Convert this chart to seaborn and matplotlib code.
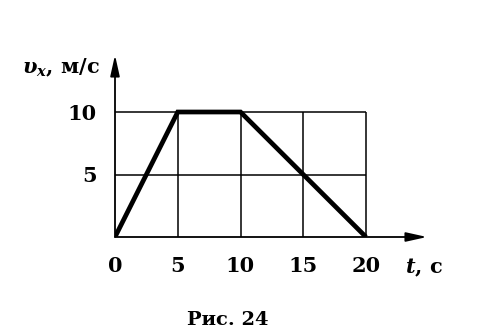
import matplotlib
matplotlib.use("Agg")
import matplotlib.pyplot as plt
import seaborn as sns
import pandas as pd

# Velocity profile: time (s) and projected velocity (m/s)
t_s = [0, 5, 10, 20]
vx_ms = [0, 10, 10, 0]

x_ticks = [0, 5, 10, 15, 20]
y_ticks = [5, 10]
x_tick_labels = ["0", "5", "10", "15", "20"]
y_tick_labels = ["5", "10"]

sns.set_style("white")
plt.rcParams["font.family"] = ["DejaVu Serif"]
plt.rcParams["font.weight"] = "bold"
plt.rcParams["mathtext.fontset"] = "dejavuserif"
plt.rcParams["text.color"] = "black"
plt.rcParams["xtick.color"] = "black"
plt.rcParams["ytick.color"] = "black"
plt.rcParams["xtick.labelcolor"] = "black"
plt.rcParams["ytick.labelcolor"] = "black"

W, H = 500, 335
fig = plt.figure(figsize=(W / 100, H / 100), dpi=100)

# axes origin at pixel (115, 237), arrow tips at x=427 and y=55
x0, y0 = 115, 237
x_tip, y_tip = 427, 55
ax = fig.add_axes([x0 / W, 1 - y0 / H, (x_tip - x0) / W, (y0 - y_tip) / H])
px_per_unit_x = (366 - 115) / 20
px_per_unit_y = (237 - 112) / 10
ax.set_xlim(0, (x_tip - x0) / px_per_unit_x)
ax.set_ylim(0, (y0 - y_tip) / px_per_unit_y)

for s in ax.spines.values():
    s.set_visible(False)

# grid cells
ax.vlines(x_ticks[1:], 0, max(y_ticks), color="black", lw=1.1, zorder=1)
ax.hlines(y_ticks, 0, max(x_ticks), color="black", lw=1.1, zorder=1)

# axes with arrows
arrow = dict(arrowstyle="-|>,head_length=0.9,head_width=0.2", color="black",
             lw=1.3, mutation_scale=14, shrinkA=0, shrinkB=0)
ax.annotate("", xy=(1, 0), xytext=(0, 0), xycoords="axes fraction",
            textcoords="axes fraction", arrowprops=arrow, annotation_clip=False)
ax.annotate("", xy=(0, 1), xytext=(0, 0), xycoords="axes fraction",
            textcoords="axes fraction", arrowprops=arrow, annotation_clip=False)

df = pd.DataFrame({"t": t_s, "vx": vx_ms})
sns.lineplot(data=df, x="t", y="vx", ax=ax, color="black", lw=3.4,
             solid_joinstyle="miter", solid_capstyle="butt", zorder=3)
ax.set_xlabel("")
ax.set_ylabel("")

ax.set_xticks(x_ticks, x_tick_labels, fontsize=15, fontweight="bold")
ax.set_yticks(y_ticks, y_tick_labels, fontsize=15, fontweight="bold")
ax.tick_params(axis="x", length=0, pad=14)
ax.tick_params(axis="y", length=0, pad=13)

fig.text(405 / W, 1 - 273 / H, r"$t$, с", fontsize=15, fontweight="bold",
         ha="left", va="baseline")
fig.text(22 / W, 1 - 73 / H, r"$\upsilon_x$, м/с", fontsize=15,
         fontweight="bold", ha="left", va="baseline")
fig.text(228 / W, 1 - 325 / H, "Рис. 24", fontsize=14, fontweight="bold",
         ha="center", va="baseline")

fig.savefig("out.png", dpi=100, facecolor="white")
